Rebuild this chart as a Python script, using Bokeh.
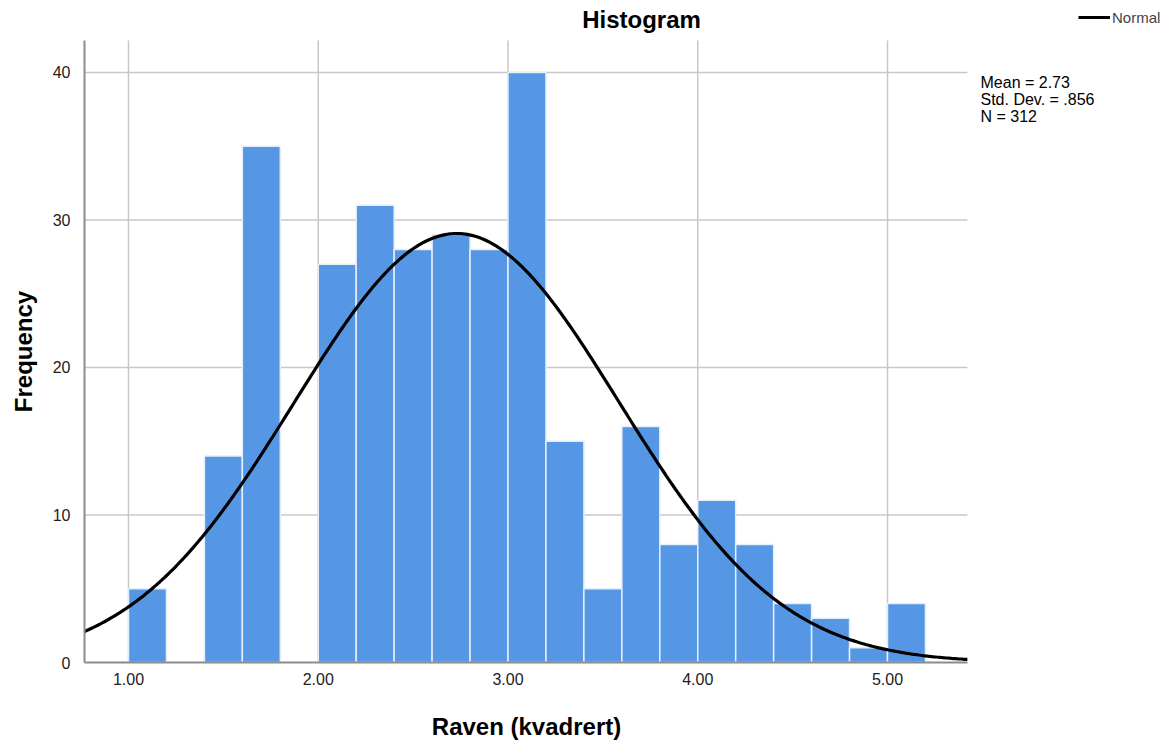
import numpy as np
from bokeh.plotting import figure
from bokeh.models import (Range1d, Label, Legend, LegendItem, FixedTicker,
                          NumeralTickFormatter, ColumnDataSource)
from bokeh.embed import file_html
from bokeh.resources import INLINE

# Histogram of Raven (kvadrert): bin left edges and frequencies
bin_left = [1.0, 1.2, 1.4, 1.6, 1.8, 2.0, 2.2, 2.4, 2.6, 2.8, 3.0,
            3.2, 3.4, 3.6, 3.8, 4.0, 4.2, 4.4, 4.6, 4.8, 5.0]
counts = [5, 0, 14, 35, 0, 27, 31, 28, 29, 28, 40,
          15, 5, 16, 8, 11, 8, 4, 3, 1, 4]
bin_width = 0.2

# Summary statistics
mean = 2.73
std_dev = 0.856
n_obs = 312

x_ticks = [1, 2, 3, 4, 5]
y_ticks = [0, 10, 20, 30, 40]
y_grid = [10, 20, 30, 40]

FONT = "Liberation Sans"
W, H = 1172, 744

# Visible data window of the histogram panel
X_MIN, X_MAX = 0.768, 5.421
Y_MIN, Y_MAX = 0.0, 42.17

# The plotting frame covers the whole canvas; the axes sit at fixed data
# locations so that titles, captions, legend and statistics can share it.
p = figure(width=W, height=H, output_backend="svg", toolbar_location=None,
           x_range=Range1d(0.3254, 6.502), y_range=Range1d(-5.559, 44.88),
           min_border=0)
p.outline_line_color = None
p.background_fill_color = "white"
p.border_fill_color = "white"
p.xgrid.visible = False
p.ygrid.visible = False

# axes, limited to the histogram window
p.xaxis.fixed_location = Y_MIN
p.yaxis.fixed_location = X_MIN
p.xaxis.ticker = FixedTicker(ticks=x_ticks)
p.yaxis.ticker = FixedTicker(ticks=y_ticks)
p.xaxis.formatter = NumeralTickFormatter(format="0.00")
p.xaxis.bounds = (X_MIN, X_MAX)
p.yaxis.bounds = (Y_MIN, Y_MAX)
for ax in (p.xaxis, p.yaxis):
    ax.axis_line_color = "#8c8c8c"
    ax.axis_line_width = 2
    ax.major_tick_line_color = None
    ax.minor_tick_line_color = None
    ax.major_label_text_font = FONT
    ax.major_label_text_font_size = "16px"
    ax.major_label_text_color = "#222222"
p.xaxis.major_label_standoff = 4
p.yaxis.major_label_standoff = 8

# grid lines inside the histogram window
p.segment(x0=x_ticks, x1=x_ticks, y0=[Y_MIN] * len(x_ticks), y1=[Y_MAX] * len(x_ticks),
          line_color="#c8c8c8", line_width=1.5, level="underlay")
p.segment(x0=[X_MIN] * len(y_grid), x1=[X_MAX] * len(y_grid), y0=y_grid, y1=y_grid,
          line_color="#c8c8c8", line_width=1.5, level="underlay")

# bars (empty bins are not drawn)
lefts = [b for b, c in zip(bin_left, counts) if c > 0]
tops = [c for c in counts if c > 0]
src = ColumnDataSource(dict(left=lefts, right=[l + bin_width for l in lefts], top=tops))
p.quad(left="left", right="right", bottom=0, top="top", source=src,
       fill_color="#5596e5", line_color="#e6eefa", line_width=1.5)

# fitted normal curve scaled to counts
xs = np.linspace(X_MIN, X_MAX, 400)
ys = n_obs * bin_width * np.exp(-0.5 * ((xs - mean) / std_dev) ** 2) / (std_dev * np.sqrt(2 * np.pi))
curve = p.line(xs, ys, line_color="black", line_width=3.2)

# legend at the upper right corner (pixels from the bottom-left corner)
legend = Legend(items=[LegendItem(label="Normal", renderers=[curve])],
                location=(1078, 718), orientation="vertical")
legend.border_line_color = None
legend.background_fill_alpha = 0
legend.label_text_font = FONT
legend.label_text_font_size = "15px"
legend.label_standoff = 2
legend.glyph_width = 32
legend.glyph_height = 18
legend.padding = 0
legend.margin = 0
legend.spacing = 0
p.add_layout(legend, "center")


def caption(text, x, y, size, bold=False, angle=0.0, align="center", baseline="middle"):
    p.add_layout(Label(x=x, y=H - y, x_units="screen", y_units="screen", text=text,
                       angle=angle, text_font=FONT, text_font_size=size,
                       text_font_style="bold" if bold else "normal",
                       text_align=align, text_baseline=baseline, text_color="black",
                       text_line_height=1.0))


caption("Histogram", 641, 19, "24px", bold=True)
caption("Raven (kvadrert)", 526, 726, "24px", bold=True)
caption("Frequency", 23, 351, "24px", bold=True, angle=np.pi / 2)

stats = "Mean = %.2f\nStd. Dev. = %s\nN = %d" % (mean, ("%.3f" % std_dev).lstrip("0"), n_obs)
caption(stats, 980, 73, "16px", align="left", baseline="top")

open("out.html", "w").write(file_html(p, INLINE))
